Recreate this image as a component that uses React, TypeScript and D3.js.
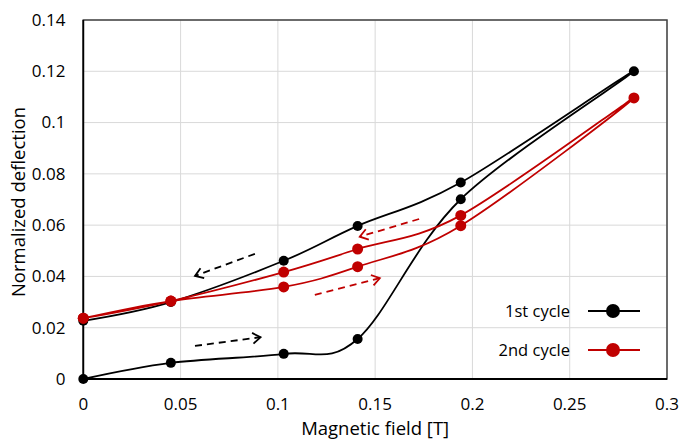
import React, { useEffect, useRef } from 'react'
import * as d3 from 'd3'

// Data (Magnetic field [T] vs normalized deflection)
const fieldUp = [0, 0.045, 0.103, 0.141, 0.194, 0.283]
const fieldDown = [0.283, 0.194, 0.141, 0.103, 0.045, 0]

const cycle1Up = [0, 0.0063, 0.0098, 0.0156, 0.0701, 0.12]
const cycle1Down = [0.12, 0.0766, 0.0597, 0.0461, 0.03, 0.0227]
const cycle2Up = [0.0237, 0.0304, 0.0359, 0.0438, 0.0598, 0.1096]
const cycle2Down = [0.1096, 0.0638, 0.0507, 0.0417, 0.0304, 0.0237]

const xTicks = [0, 0.05, 0.1, 0.15, 0.2, 0.25, 0.3]
const yTicks = [0, 0.02, 0.04, 0.06, 0.08, 0.1, 0.12, 0.14]

const seriesNames = ['1st cycle', '2nd cycle']
const seriesColors = ['#000000', '#c00000']

// dashed direction arrows [x1, y1, x2, y2] in data units, head at (x2, y2)
const arrows = [
  { color: '#000000', pts: [0.0882, 0.0488, 0.0574, 0.0402] },
  { color: '#000000', pts: [0.0574, 0.0129, 0.0911, 0.0163] },
  { color: '#c00000', pts: [0.1726, 0.0624, 0.1421, 0.0555] },
  { color: '#c00000', pts: [0.119, 0.0328, 0.1524, 0.0393] },
]

const font = "'Open Sans', sans-serif"

export default function App() {
  const ref = useRef(null)

  useEffect(() => {
    const left = 83.3
    const right = 667
    const top = 20
    const bottom = 379

    const svg = d3.select(ref.current)
    svg.selectAll('*').remove()

    const x = d3.scaleLinear().domain([0, 0.3]).range([left, right])
    const y = d3.scaleLinear().domain([0, 0.14]).range([bottom, top])

    // Gridlines
    svg.append('g')
      .selectAll('line')
      .data(xTicks)
      .enter()
      .append('line')
      .attr('x1', d => x(d))
      .attr('x2', d => x(d))
      .attr('y1', top)
      .attr('y2', bottom)
      .style('stroke', '#d9d9d9')
      .style('stroke-width', 1)

    svg.append('g')
      .selectAll('line')
      .data(yTicks)
      .enter()
      .append('line')
      .attr('x1', left)
      .attr('x2', right)
      .attr('y1', d => y(d))
      .attr('y2', d => y(d))
      .style('stroke', '#d9d9d9')
      .style('stroke-width', 1)

    // Plot frame
    svg.append('rect')
      .attr('x', left)
      .attr('y', top)
      .attr('width', right - left)
      .attr('height', bottom - top)
      .style('fill', 'none')
      .style('stroke', '#404040')
      .style('stroke-width', 1.5)

    svg.append('line')
      .attr('x1', left).attr('x2', left)
      .attr('y1', top).attr('y2', bottom)
      .style('stroke', '#000').style('stroke-width', 1.8)
    svg.append('line')
      .attr('x1', left).attr('x2', right)
      .attr('y1', bottom).attr('y2', bottom)
      .style('stroke', '#000').style('stroke-width', 1.8)

    // Tick labels
    svg.append('g')
      .selectAll('text')
      .data(xTicks)
      .enter()
      .append('text')
      .text(d => String(d))
      .attr('x', d => x(d))
      .attr('y', 410)
      .attr('text-anchor', 'middle')
      .attr('font-family', font)
      .attr('font-size', '17px')
      .attr('fill', '#000')

    svg.append('g')
      .selectAll('text')
      .data(yTicks)
      .enter()
      .append('text')
      .text(d => String(d))
      .attr('x', 65.5)
      .attr('y', d => y(d) + 5.8)
      .attr('text-anchor', 'end')
      .attr('font-family', font)
      .attr('font-size', '17px')
      .attr('fill', '#000')

    // Axis titles
    svg.append('text')
      .text('Magnetic field [T]')
      .attr('x', (left + right) / 2)
      .attr('y', 434.5)
      .attr('text-anchor', 'middle')
      .attr('font-family', font)
      .attr('font-size', '18.5px')
      .attr('fill', '#000')

    svg.append('text')
      .text('Normalized deflection')
      .attr('transform', 'translate(24.5,' + 202 + ') rotate(-90)')
      .attr('text-anchor', 'middle')
      .attr('font-family', font)
      .attr('font-size', '18.5px')
      .attr('fill', '#000')

    // Arrows
    arrows.forEach(a => {
      const [x1, y1, x2, y2] = a.pts
      const px1 = x(x1), py1 = y(y1), px2 = x(x2), py2 = y(y2)
      const ang = Math.atan2(py2 - py1, px2 - px1)
      svg.append('line')
        .attr('x1', px1).attr('y1', py1)
        .attr('x2', px2).attr('y2', py2)
        .style('stroke', a.color)
        .style('stroke-width', 1.8)
        .style('stroke-dasharray', '7,5')
      const head = 9.5
      const spread = 0.6
      const hx1 = px2 - head * Math.cos(ang - spread)
      const hy1 = py2 - head * Math.sin(ang - spread)
      const hx2 = px2 - head * Math.cos(ang + spread)
      const hy2 = py2 - head * Math.sin(ang + spread)
      svg.append('path')
        .attr('d', `M${hx1},${hy1}L${px2},${py2}L${hx2},${hy2}`)
        .style('fill', 'none')
        .style('stroke', a.color)
        .style('stroke-width', 1.8)
    })

    // Series (up sweep then down sweep, smoothed)
    const line = d3.line()
      .x(d => x(d[0]))
      .y(d => y(d[1]))
      .curve(d3.curveCardinal.tension(0))

    const series = [
      fieldUp.map((f, i) => [f, cycle1Up[i]]).concat(fieldDown.slice(1).map((f, i) => [f, cycle1Down[i + 1]])),
      fieldUp.map((f, i) => [f, cycle2Up[i]]).concat(fieldDown.slice(1).map((f, i) => [f, cycle2Down[i + 1]])),
    ]
    const radii = [5, 5.5]

    series.forEach((pts, s) => {
      svg.append('path')
        .attr('d', line(pts))
        .style('fill', 'none')
        .style('stroke', seriesColors[s])
        .style('stroke-width', 1.8)

      svg.append('g')
        .selectAll('circle')
        .data(pts)
        .enter()
        .append('circle')
        .attr('cx', d => x(d[0]))
        .attr('cy', d => y(d[1]))
        .attr('r', radii[s])
        .style('fill', seriesColors[s])
    })

    // Legend
    const legendY = [311, 350]
    seriesNames.forEach((name, i) => {
      svg.append('text')
        .text(name)
        .attr('x', 570)
        .attr('y', legendY[i] + 6)
        .attr('text-anchor', 'end')
        .attr('font-family', font)
        .attr('font-size', '16.5px')
        .attr('fill', '#000')
      svg.append('line')
        .attr('x1', 588).attr('x2', 640)
        .attr('y1', legendY[i]).attr('y2', legendY[i])
        .style('stroke', seriesColors[i])
        .style('stroke-width', 2.2)
      svg.append('circle')
        .attr('cx', 613)
        .attr('cy', legendY[i])
        .attr('r', 7)
        .style('fill', seriesColors[i])
    })
  }, [])

  return (
    <svg ref={ref} width={680} height={441}
      style={{ position: 'absolute', left: 0, top: 0, background: '#fff' }} />
  )
}
